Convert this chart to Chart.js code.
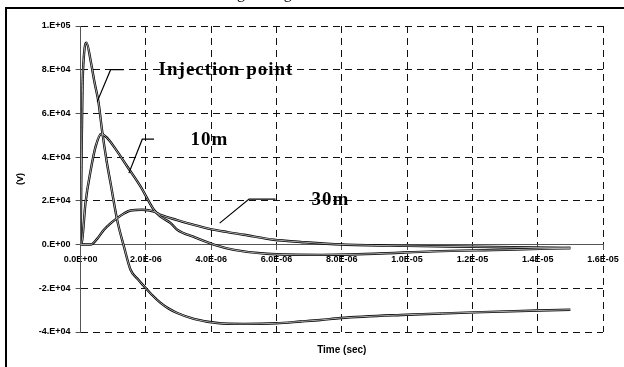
<!DOCTYPE html>
<html>
<head>
<meta charset="utf-8">
<script src="https://cdn.jsdelivr.net/npm/chart.js@4.4.0/dist/chart.umd.min.js"></script>
<style>
body { margin: 0; background: #fff; }
</style>
</head>
<body>
<canvas id="myChart" width="624" height="367"></canvas>
<script>
// time in microseconds, voltage in kV
var injTime = [0, 0.03, 0.06, 0.1, 0.18, 0.31, 0.43, 0.55, 0.66, 0.8, 0.92, 1.12, 1.33, 1.53, 1.75, 1.94, 2.2, 2.45, 2.7, 2.96, 3.47, 4.19, 5.0, 6.0, 6.74, 7.35, 7.96, 10.0, 12.05, 15.0];
var injVolt = [0, 40, 72, 86, 92.4, 84, 74, 65, 52, 38, 28, 11.3, -1, -11.5, -15.8, -19, -23.2, -26.7, -29.3, -31.3, -34, -35.9, -36.3, -36.0, -35.2, -34.5, -33.6, -32.1, -31, -29.8];

var m10Time = [0, 0.05, 0.15, 0.31, 0.46, 0.63, 0.8, 1.02, 1.43, 1.84, 2.25, 2.45, 2.76, 2.96, 3.47, 4.08, 4.7, 5.7, 7.35, 9.0, 10.8, 13.0, 15.0];
var m10Volt = [0, 2, 19, 34, 44.8, 50.6, 49, 44.8, 35.7, 26.5, 15.8, 12.8, 9.8, 6.8, 3.5, 0, -2.4, -4.2, -4.7, -4.2, -3.1, -2.4, -1.6];

var m30Time = [0, 0.31, 0.5, 0.71, 0.9, 1.12, 1.33, 1.53, 1.89, 2.25, 2.45, 2.96, 3.47, 3.98, 4.5, 5.0, 5.92, 6.74, 8.0, 10.0, 12.0, 15.0];
var m30Volt = [0, 0, 2.5, 6.7, 9.5, 12.1, 14.2, 15.6, 15.9, 15.1, 13.6, 11.2, 9, 7.1, 5.7, 4.5, 2.2, 1.2, 0, -0.6, -1.0, -1.6];

var xTickLabels = ["0.0E+00", "2.0E-06", "4.0E-06", "6.0E-06", "8.0E-06", "1.0E-05", "1.2E-05", "1.4E-05", "1.6E-05"];
var yTickLabels = ["-4.E+04", "-2.E+04", "0.E+00", "2.E+04", "4.E+04", "6.E+04", "8.E+04", "1.E+05"];

// callout labels: text anchor and leader line, in data units (us, V)
var callouts = [
    {text: "Injection point", x: 2.39, y: 80000, line: [[0.51, 65400], [0.92, 80000], [1.32, 80000]]},
    {text: "10m", x: 3.37, y: 48000, line: [[1.48, 32700], [1.89, 48200], [2.25, 48200]]},
    {text: "30m", x: 7.07, y: 20500, line: [[4.26, 9800], [5.16, 20800], [5.97, 20800]]}
];

function points(t, v) {
    var out = [];
    for (var i = 0; i < t.length; i++) {
        out.push({x: t[i], y: v[i] * 1000});
    }
    return out;
}

function curve(data, inner) {
    return {
        data: data,
        borderColor: inner ? "#d8d8d8" : "#000",
        borderWidth: inner ? 0.8 : 2.4,
        pointRadius: 0,
        cubicInterpolationMode: "monotone",
        order: inner ? 0 : 1
    };
}

var inj = points(injTime, injVolt);
var m10 = points(m10Time, m10Volt);
var m30 = points(m30Time, m30Volt);

var frame = {
    id: "frame",
    beforeDraw: function (chart) {
        var c = chart.ctx;
        c.save();
        c.fillStyle = "#fff";
        c.fillRect(0, 0, chart.width, chart.height);
        c.strokeStyle = "#000";
        c.lineWidth = 2;
        c.beginPath();
        c.moveTo(6, chart.height);
        c.lineTo(6, 8);
        c.lineTo(chart.width, 8);
        c.stroke();
        // caption above the frame, only its descenders show
        c.font = "16px 'Liberation Serif'";
        c.fillStyle = "#000";
        c.textBaseline = "alphabetic";
        var pre = c.measureText("Volta").width;
        c.fillText("Voltage along the line", 237 - pre, -2);
        c.restore();
    },
    afterDatasetsDraw: function (chart) {
        var c = chart.ctx;
        var xs = chart.scales.x, ys = chart.scales.y;
        c.save();
        c.strokeStyle = "#000";
        c.lineWidth = 1.2;
        c.fillStyle = "#000";
        c.font = "bold 19px 'Liberation Serif'";
        c.letterSpacing = "1px";
        c.textBaseline = "middle";
        callouts.forEach(function (co) {
            c.beginPath();
            co.line.forEach(function (p, i) {
                var px = xs.getPixelForValue(p[0]), py = ys.getPixelForValue(p[1]);
                if (i === 0) c.moveTo(px, py); else c.lineTo(px, py);
            });
            c.stroke();
            c.fillText(co.text, xs.getPixelForValue(co.x), ys.getPixelForValue(co.y));
        });
        c.restore();
    }
};

var tickFont = {family: "'Liberation Sans', Arial", size: 9, weight: "bold"};

function gridColor(c) {
    return c.tick && c.tick.value === 0 ? "rgba(0,0,0,0)" : "#111";
}

var ctx = document.getElementById("myChart");
var myChart = new Chart(ctx, {
    type: "line",
    data: {
        datasets: [
            curve(inj, false), curve(inj, true),
            curve(m10, false), curve(m10, true),
            curve(m30, false), curve(m30, true)
        ]
    },
    plugins: [frame],
    options: {
        responsive: false,
        animation: false,
        devicePixelRatio: 1,
        layout: {padding: {top: 26, right: 21, bottom: 6, left: 0}},
        plugins: {
            legend: {display: false},
            tooltip: {enabled: false},
            title: {
                display: true,
                position: "bottom",
                fullSize: false,
                text: "Time (sec)",
                color: "#000",
                font: {family: "'Liberation Sans', Arial", size: 10, weight: "bold"},
                padding: {top: 12, bottom: 5}
            }
        },
        scales: {
            x: {
                type: "linear",
                position: {y: 0},
                min: 0,
                max: 16,
                ticks: {
                    stepSize: 2,
                    color: "#000",
                    font: tickFont,
                    maxRotation: 0,
                    padding: 5,
                    callback: function (v, i) { return xTickLabels[i]; }
                },
                grid: {
                    color: gridColor,
                    tickLength: 5,
                    tickColor: "#555",
                    tickBorderDash: []
                },
                border: {display: true, color: "#555", width: 1, dash: [7, 5]}
            },
            y: {
                min: -40000,
                max: 100000,
                ticks: {
                    stepSize: 20000,
                    color: "#000",
                    font: tickFont,
                    padding: 5,
                    callback: function (v, i) { return yTickLabels[i]; }
                },
                grid: {
                    color: gridColor,
                    tickLength: 5,
                    tickColor: "#555",
                    tickBorderDash: []
                },
                border: {display: true, color: "#555", width: 1, dash: [7, 5]},
                title: {
                    display: true,
                    text: "(V)",
                    color: "#000",
                    font: tickFont,
                    padding: {top: 15, bottom: 8}
                }
            }
        }
    }
});
</script>
</body>
</html>
